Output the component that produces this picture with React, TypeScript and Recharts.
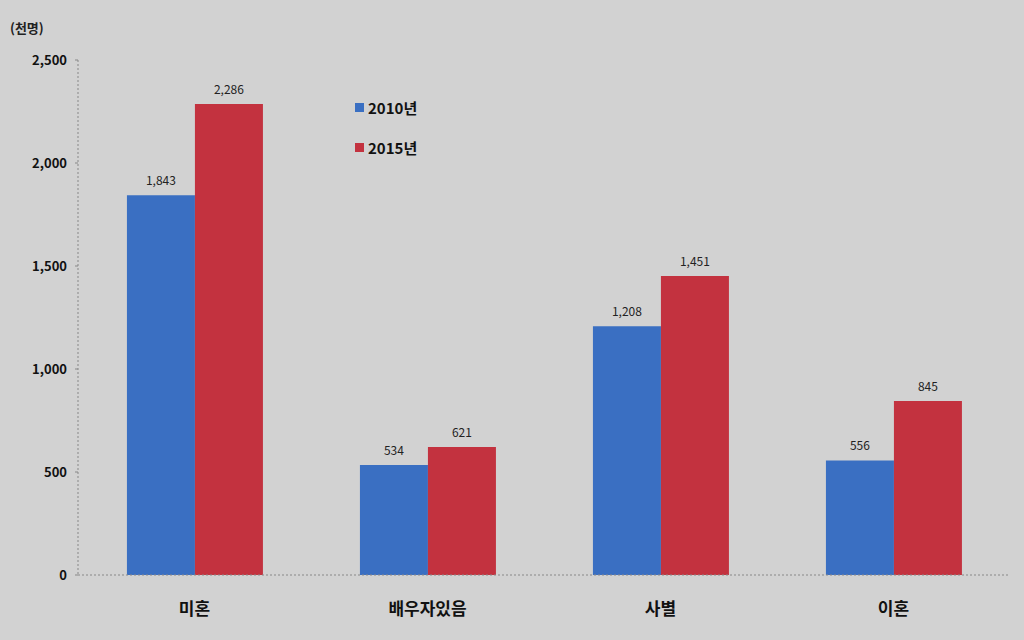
import { BarChart, Bar, XAxis, YAxis, LabelList } from 'recharts';

const categories = ['미혼', '배우자있음', '사별', '이혼'];
const values2010 = [1843, 534, 1208, 556];
const values2015 = [2286, 621, 1451, 845];
const yTicks = [0, 500, 1000, 1500, 2000, 2500];

const data = categories.map((name, i) => ({
  name,
  y2010: values2010[i],
  y2015: values2015[i],
}));

const FONT = '"Noto Sans CJK KR", "Noto Sans", sans-serif';
const BLUE = '#3a6fc2';
const RED = '#c3323f';

const fmt = (v: number) => v.toLocaleString('en-US');

export default function App() {
  return (
    <div
      style={{
        position: 'fixed',
        left: 0,
        top: 0,
        width: 1024,
        height: 640,
        background: '#d2d2d2',
        fontFamily: FONT,
        overflow: 'hidden',
      }}
    >
      <div
        style={{
          position: 'absolute',
          left: 10,
          top: 18,
          fontSize: 13,
          fontWeight: 700,
          color: '#222',
        }}
      >
        (천명)
      </div>

      <div style={{ position: 'absolute', left: 355, top: 96, fontSize: 15, fontWeight: 700, color: '#111' }}>
        <div style={{ display: 'flex', alignItems: 'center', height: 22 }}>
          <span style={{ width: 9, height: 9, background: BLUE, marginRight: 4 }} />
          2010년
        </div>
        <div style={{ display: 'flex', alignItems: 'center', height: 22, marginTop: 18 }}>
          <span style={{ width: 9, height: 9, background: RED, marginRight: 4 }} />
          2015년
        </div>
      </div>

      <BarChart
        width={1024}
        height={640}
        data={data}
        margin={{ top: 60, right: 14, left: 0, bottom: 0 }}
        barCategoryGap="21%"
        barGap={0}
      >
        <XAxis
          dataKey="name"
          height={65}
          axisLine={{ stroke: '#888', strokeDasharray: '2 2' }}
          tickLine={false}
          tick={{ fill: '#111', fontSize: 17, fontWeight: 700, fontFamily: FONT }}
          tickMargin={22}
        />
        <YAxis
          width={78}
          domain={[0, 2500]}
          ticks={yTicks}
          tickFormatter={fmt}
          axisLine={{ stroke: '#888', strokeDasharray: '2 2' }}
          tickLine={{ stroke: '#888' }}
          tickSize={3}
          tickMargin={8}
          tick={{ fill: '#111', fontSize: 13, fontWeight: 700, fontFamily: FONT }}
        />
        <Bar dataKey="y2010" fill={BLUE} isAnimationActive={false}>
          <LabelList
            dataKey="y2010"
            position="top"
            offset={10}
            formatter={(v: number) => fmt(v)}
            style={{ fill: '#222', fontSize: 12, fontFamily: FONT }}
          />
        </Bar>
        <Bar dataKey="y2015" fill={RED} isAnimationActive={false}>
          <LabelList
            dataKey="y2015"
            position="top"
            offset={10}
            formatter={(v: number) => fmt(v)}
            style={{ fill: '#222', fontSize: 12, fontFamily: FONT }}
          />
        </Bar>
      </BarChart>
    </div>
  );
}
